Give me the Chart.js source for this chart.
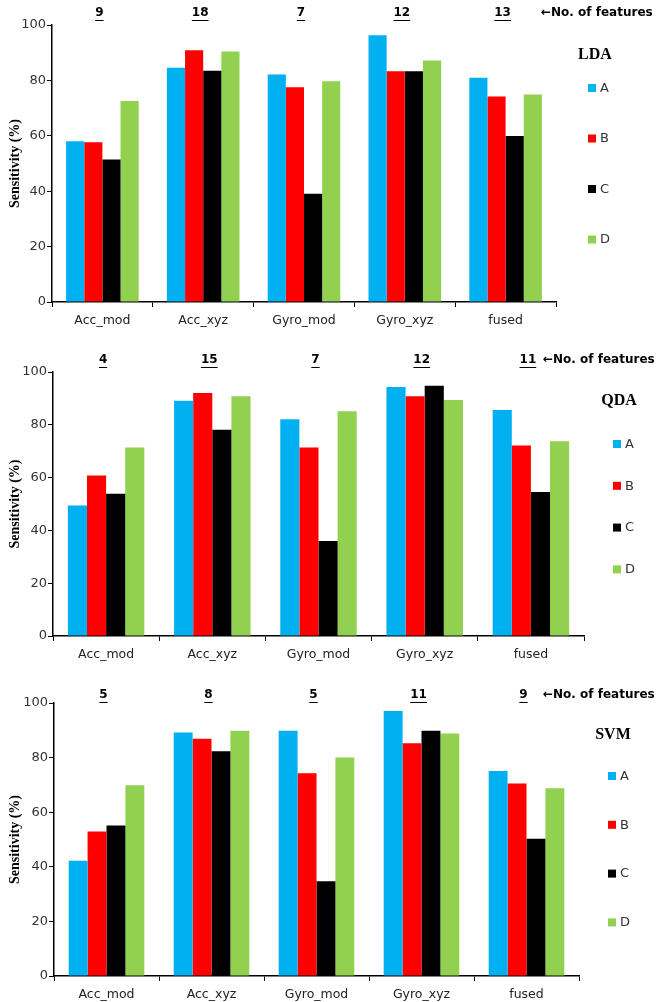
<!DOCTYPE html>
<html><head><meta charset="utf-8">
<script src="https://cdn.jsdelivr.net/npm/chart.js@4/dist/chart.umd.min.js"></script>
<style>
html,body{margin:0;padding:0;background:#fff;width:658px;height:1002px;overflow:hidden}
.wrap{position:absolute;left:0;width:658px}
canvas{display:block}
</style></head><body>
<div class="wrap" style="top:0;height:335px"><canvas id="c1" width="658" height="335"></canvas></div>
<div class="wrap" style="top:340px;height:335px"><canvas id="c2" width="658" height="335"></canvas></div>
<div class="wrap" style="top:680px;height:322px"><canvas id="c3" width="658" height="322"></canvas></div>
<script>
const categories = ['Acc_mod', 'Acc_xyz', 'Gyro_mod', 'Gyro_xyz', 'fused'];
const seriesLabels = ['A', 'B', 'C', 'D'];
const seriesColors = ['#00B0F0', '#FF0000', '#000000', '#92D050'];
const yTicks = [0, 20, 40, 60, 80, 100];

// LDA
const ldaA = [58.0, 84.6, 82.1, 96.3, 81.0];
const ldaB = [57.7, 90.9, 77.5, 83.3, 74.2];
const ldaC = [51.4, 83.5, 39.1, 83.3, 59.9];
const ldaD = [72.6, 90.4, 79.7, 87.2, 74.9];
const ldaFeatures = [9, 18, 7, 12, 13];

// QDA
const qdaA = [49.4, 89.1, 82.1, 94.3, 85.6];
const qdaB = [60.8, 92.0, 71.4, 90.8, 72.2];
const qdaC = [53.9, 78.1, 36.0, 94.8, 54.5];
const qdaD = [71.4, 90.8, 85.1, 89.4, 73.8];
const qdaFeatures = [4, 15, 7, 12, 11];

// SVM
const svmA = [42.2, 89.2, 89.8, 97.1, 75.1];
const svmB = [52.9, 86.9, 74.3, 85.3, 70.5];
const svmC = [55.1, 82.3, 34.7, 89.8, 50.3];
const svmD = [69.9, 89.8, 80.0, 88.8, 68.8];
const svmFeatures = [5, 8, 5, 11, 9];

const overlay = {
  id: 'overlay',
  afterDraw(chart, args, o) {
    const ctx = chart.ctx, xs = chart.scales.x;
    ctx.save();
    ctx.fillStyle = '#000'; ctx.strokeStyle = '#000';
    ctx.font = 'bold 12px "DejaVu Sans"';
    ctx.textAlign = 'center'; ctx.textBaseline = 'middle';
    o.features.forEach((f, i) => {
      const x = xs.getPixelForValue(i) - 3;
      const t = String(f);
      ctx.fillText(t, x, o.numY);
      const w = ctx.measureText(t).width;
      ctx.lineWidth = 1;
      ctx.beginPath();
      ctx.moveTo(x - w / 2, o.numY + 7.5);
      ctx.lineTo(x + w / 2, o.numY + 7.5);
      ctx.stroke();
    });
    ctx.textAlign = 'left';
    ctx.fillText('\u2190No. of features', o.arrowX, o.numY);
    ctx.font = 'bold 16px "Liberation Serif"';
    ctx.textAlign = 'center';
    ctx.fillText(o.title, o.titleX, o.titleY);
    ctx.font = '13px "DejaVu Sans"';
    ctx.textAlign = 'left';
    chart.data.datasets.forEach((ds, i) => {
      const y = o.legY + i * o.legGap;
      ctx.fillStyle = ds.backgroundColor;
      ctx.fillRect(o.legX, y - 4, 8, 8);
      ctx.fillStyle = '#333';
      ctx.fillText(ds.label, o.legX + 12, y + 0.5);
    });
    ctx.restore();
  }
};

function makeChart(id, series, features, cfg) {
  const datasets = series.map((vals, i) => ({
    label: seriesLabels[i],
    data: vals,
    backgroundColor: seriesColors[i],
    borderWidth: 0,
    categoryPercentage: 0.72,
    barPercentage: 1.0
  }));
  return new Chart(document.getElementById(id), {
    type: 'bar',
    data: { labels: categories, datasets },
    plugins: [overlay],
    options: {
      responsive: false,
      animation: false,
      layout: { padding: { top: cfg.padTop, right: cfg.padRight, left: 0, bottom: 0 } },
      plugins: {
        legend: { display: false },
        tooltip: { enabled: false },
        overlay: {
          features, numY: cfg.numY, arrowX: cfg.arrowX,
          title: cfg.title, titleX: cfg.titleX, titleY: cfg.titleY,
          legX: cfg.legX, legY: cfg.legY, legGap: cfg.legGap
        }
      },
      scales: {
        x: {
          afterFit(s) { s.height = cfg.xHeight; },
          grid: { offset: true, drawOnChartArea: false, drawTicks: true, tickLength: 5, color: '#000' },
          border: { color: '#000', width: 1.5 },
          ticks: { color: '#222', padding: 6, font: { family: 'DejaVu Sans', size: 12.5 }, maxRotation: 0 }
        },
        y: {
          min: 0, max: 100,
          afterFit(s) { s.width = cfg.yWidth; },
          afterBuildTicks(s) { s.ticks = yTicks.map(v => ({ value: v })); },
          grid: { drawOnChartArea: false, drawTicks: true, tickLength: 5, color: '#000' },
          border: { color: '#000', width: 1.5 },
          ticks: { color: '#333', padding: 1, font: { family: 'DejaVu Sans', size: 13 } },
          title: {
            display: true, text: 'Sensitivity (%)', color: '#000',
            font: { family: 'Liberation Serif', size: 14, weight: 'bold' },
            padding: { top: 7, bottom: 0 }
          }
        }
      }
    }
  });
}

makeChart('c1', [ldaA, ldaB, ldaC, ldaD], ldaFeatures, {
  padTop: 25, padRight: 102, xHeight: 33, yWidth: 52,
  numY: 13, arrowX: 541, title: 'LDA', titleX: 595, titleY: 55,
  legX: 588, legY: 88, legGap: 50.5
});
makeChart('c2', [qdaA, qdaB, qdaC, qdaD], qdaFeatures, {
  padTop: 32, padRight: 74, xHeight: 39, yWidth: 53,
  numY: 20, arrowX: 543, title: 'QDA', titleX: 619, titleY: 61,
  legX: 613, legY: 104, legGap: 41.8
});
makeChart('c3', [svmA, svmB, svmC, svmD], svmFeatures, {
  padTop: 23, padRight: 79, xHeight: 26, yWidth: 54,
  numY: 15, arrowX: 543, title: 'SVM', titleX: 613, titleY: 55,
  legX: 608, legY: 96, legGap: 48.8
});
</script>
</body></html>
